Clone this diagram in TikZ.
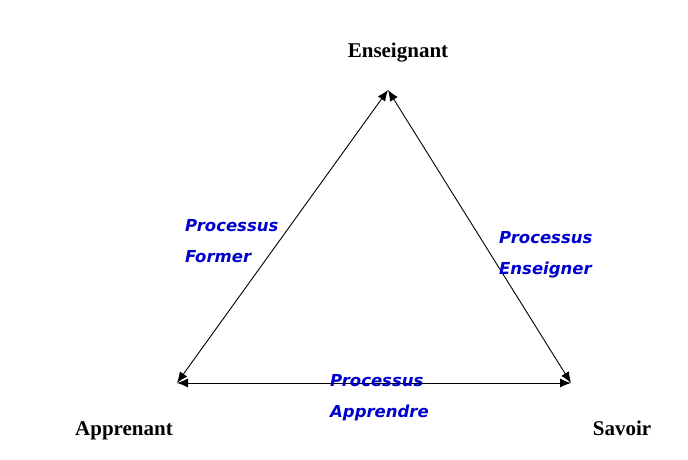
\documentclass[tikz,border=0pt]{standalone}
\usepackage{fontspec}
\setmainfont{Liberation Serif}
\newfontfamily\procfont{DejaVu Sans}
\usepackage{xcolor}
\usepackage{tikz}
\usetikzlibrary{arrows.meta,positioning,calc}
\definecolor{procblue}{RGB}{0,0,204}
\tikzset{
  pole/.style={font=\fontsize{21}{24}\selectfont\bfseries, inner sep=0pt},
  proc/.style={font=\procfont\fontsize{16.5}{31}\selectfont\bfseries\itshape, text=procblue, align=left, inner sep=0pt, anchor=west},
  arr/.style={{Latex[length=11pt,width=9pt]}-{Latex[length=11pt,width=9pt]}, black, line width=0.9pt},
}

\begin{document}
\begin{tikzpicture}[x=1pt,y=1pt]
  \useasboundingbox (0,0) rectangle (688,460);
  \coordinate (ens) at (388,370);
  \coordinate (app) at (177,77);
  \coordinate (sav) at (571,77);
  \node[pole] (ensl) at (398,407) {Enseignant};
  \node[pole] (appl) at (124,29) {Apprenant};
  \node[pole] (savl) at (622,32) {Savoir};
  \draw[arr] (app) -- (ens);
  \draw[arr] (ens) -- (sav);
  \draw[arr] (app) -- (sav);
  \node[proc] (former) at (185,219) {Processus\\Former};
  \node[proc] (enseigner) at (499,205) {Processus\\Enseigner};
  \node[proc] (apprendre) at (330,62) {Processus\\Apprendre};
\end{tikzpicture}
\end{document}
